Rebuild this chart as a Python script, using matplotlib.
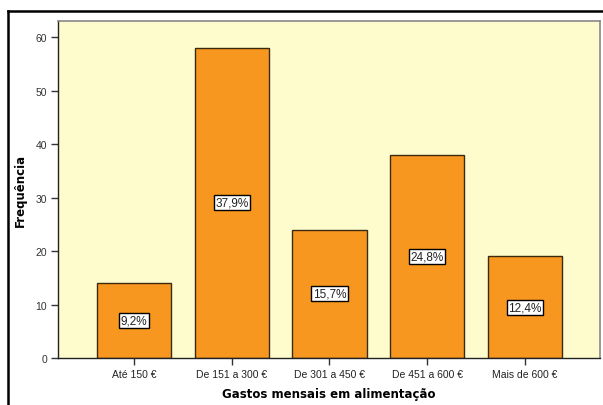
import matplotlib.pyplot as plt
from matplotlib.lines import Line2D

categories = ['Até 150 €', 'De 151 a 300 €', 'De 301 a 450 €', 'De 451 a 600 €', 'Mais de 600 €']
counts = [14, 58, 24, 38, 19]
percent_labels = ['9,2%', '37,9%', '15,7%', '24,8%', '12,4%']
yticks = [0, 10, 20, 30, 40, 50, 60]

fig = plt.figure(figsize=(6.03, 4.06), dpi=100)
W, H = 603, 406
ax = fig.add_axes([58 / W, 1 - 359 / H, (600 - 58) / W, (359 - 22) / H])
ax.set_facecolor('#FEFCCC')

x = list(range(len(categories)))
ax.bar(x, counts, width=0.76, color='#F8971F', edgecolor='#3a2a10', linewidth=1.0, zorder=2)

for xi, c, lab in zip(x, counts, percent_labels):
    ax.text(xi, c / 2, lab, ha='center', va='center', fontsize=8.5,
            family='Liberation Sans', color='#222222', zorder=3,
            bbox=dict(boxstyle='square,pad=0.12', facecolor='white', edgecolor='black', linewidth=1.0))

ax.set_xlim(-0.78, 4.77)
ax.set_ylim(0, 63)
ax.set_xticks(x)
ax.set_xticklabels(categories, fontsize=7.5, family='Liberation Sans', color='#222222')
ax.set_yticks(yticks)
ax.set_yticklabels([str(v) for v in yticks], fontsize=7.5, family='Liberation Sans', color='#333333')
ax.tick_params(axis='both', direction='out', length=5, width=1, color='#333333', pad=3)

for s in ['left', 'bottom']:
    ax.spines[s].set_color('#222222')
    ax.spines[s].set_linewidth(1)
for s in ['top', 'right']:
    ax.spines[s].set_color('#888888')
    ax.spines[s].set_linewidth(1.2)

ax.set_xlabel('Gastos mensais em alimentação', fontsize=8.5, fontweight='bold',
              family='DejaVu Sans', labelpad=6)
ax.set_ylabel('Frequência', fontsize=8.5, fontweight='bold', family='DejaVu Sans', labelpad=6)

# outer frame of the chart window
fig.add_artist(Line2D([8 / W, 8 / W], [0, 1 - 12 / H], transform=fig.transFigure, color='black', linewidth=1.8))
fig.add_artist(Line2D([8 / W, 1], [1 - 12 / H, 1 - 12 / H], transform=fig.transFigure, color='black', linewidth=1.8))

fig.savefig('out.png', dpi=100)
